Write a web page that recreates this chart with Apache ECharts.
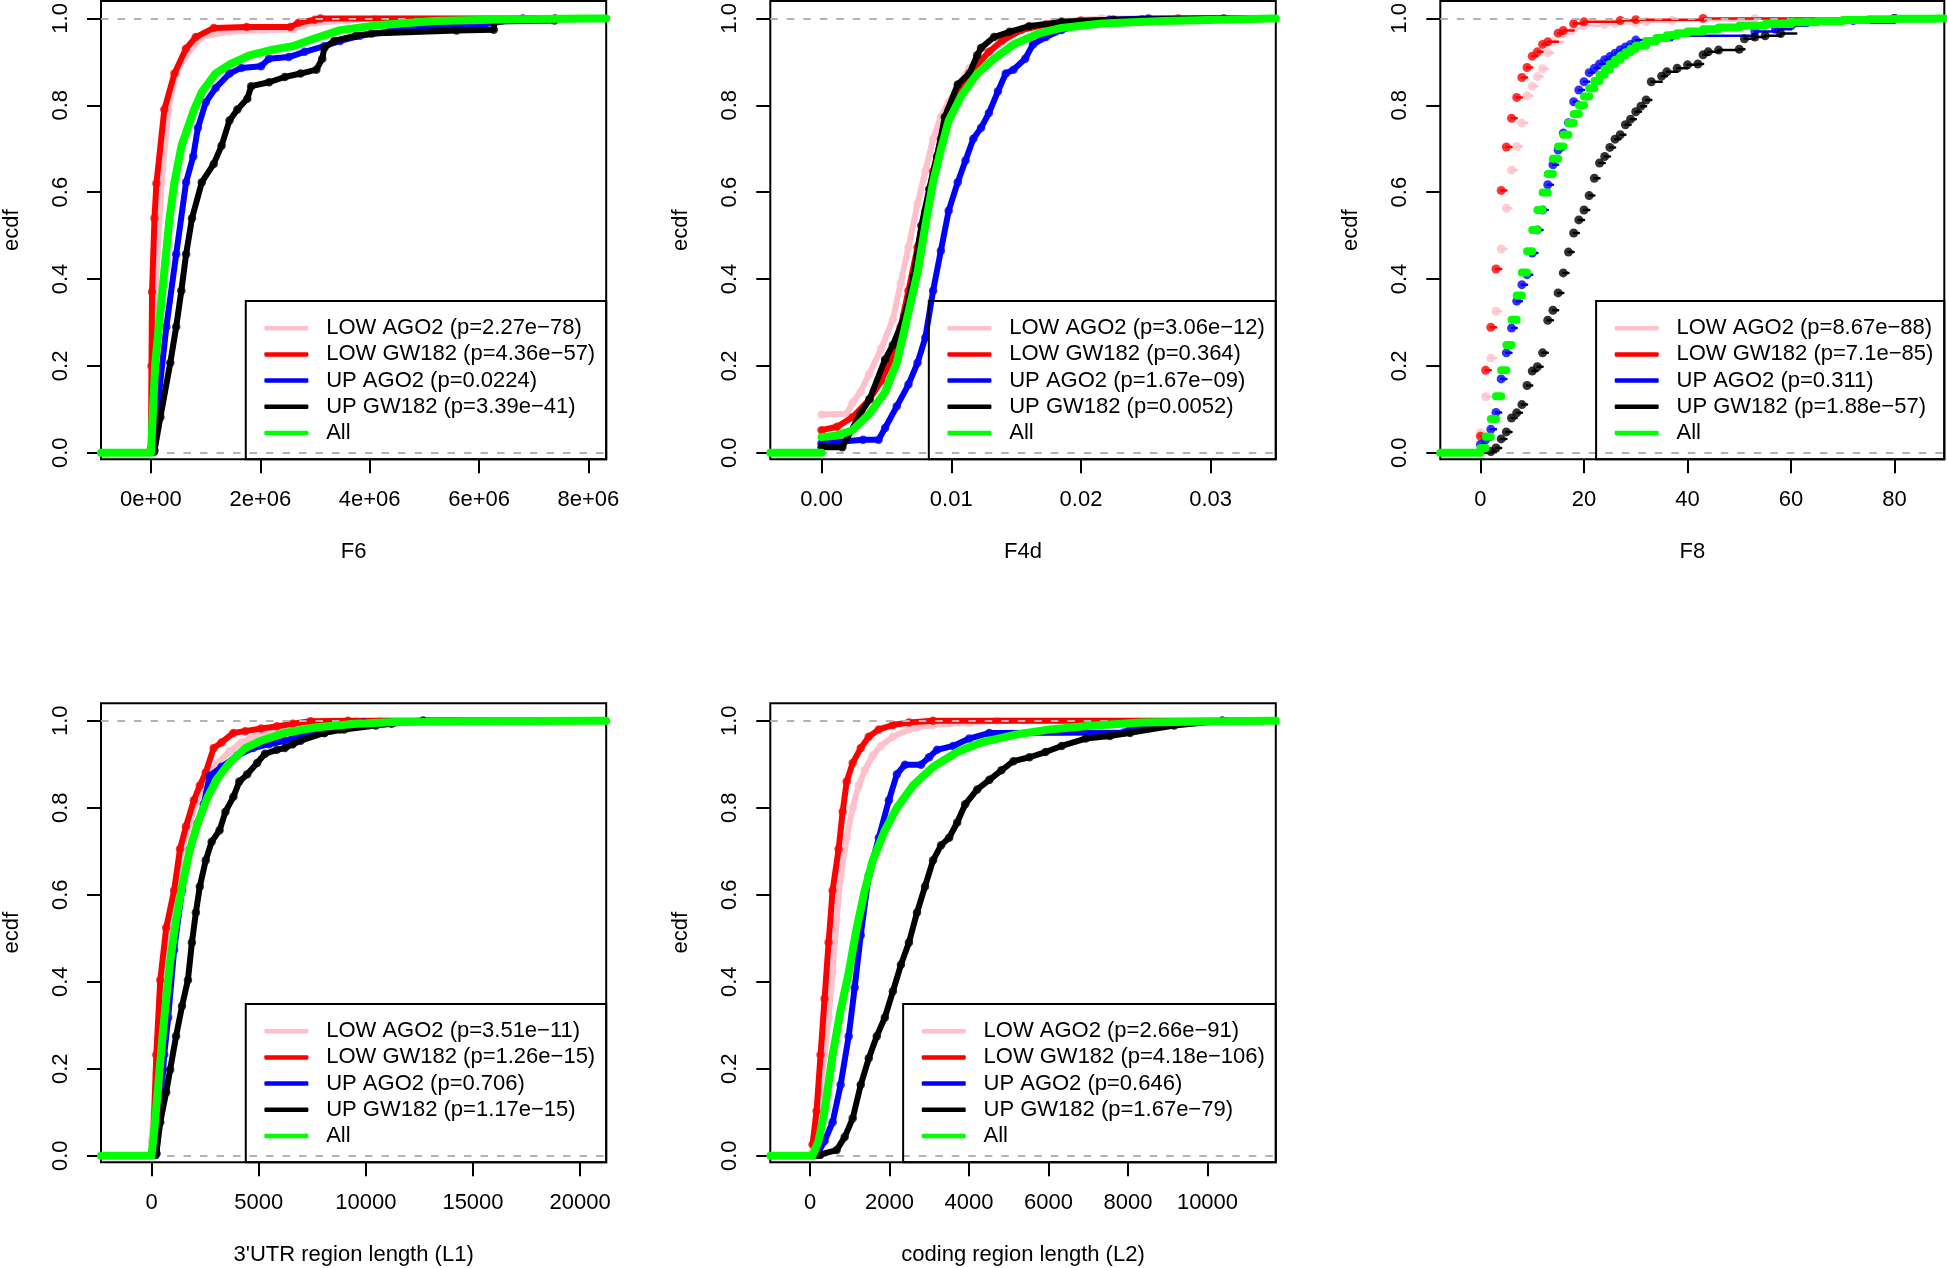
<!DOCTYPE html>
<html><head><meta charset="utf-8">
<script src="https://cdn.jsdelivr.net/npm/echarts@6/dist/echarts.min.js"></script>
<style>html,body{margin:0;padding:0;background:#fff}#c{width:1947px;height:1268px}</style>
</head><body><div id="c"></div>
<script>
// ---------- categories / labels ----------
const GROUPS = ['LOW AGO2', 'LOW GW182', 'UP AGO2', 'UP GW182', 'All'];
const COLORS = ['#FFC0CB', '#FF0000', '#0000FF', '#000000', '#00FF00'];
const P_F6  = ['2.27e\u221278', '4.36e\u221257', '0.0224', '3.39e\u221241'];
const P_F4D = ['3.06e\u221212', '0.364', '1.67e\u221209', '0.0052'];
const P_F8  = ['8.67e\u221288', '7.1e\u221285', '0.311', '1.88e\u221257'];
const P_L1  = ['3.51e\u221211', '1.26e\u221215', '0.706', '1.17e\u221215'];
const P_L2  = ['2.66e\u221291', '4.18e\u2212106', '0.646', '1.67e\u221279'];

const Y_TICKS = [0, 0.2, 0.4, 0.6, 0.8, 1.0];
const Y_TICK_LABELS = ['0.0', '0.2', '0.4', '0.6', '0.8', '1.0'];
const F6_TICKS = [0, 2e6, 4e6, 6e6, 8e6];
const F6_TICK_LABELS = ['0e+00', '2e+06', '4e+06', '6e+06', '8e+06'];
const F4D_TICKS = [0, 0.01, 0.02, 0.03];
const F4D_TICK_LABELS = ['0.00', '0.01', '0.02', '0.03'];
const F8_TICKS = [0, 20, 40, 60, 80];
const F8_TICK_LABELS = ['0', '20', '40', '60', '80'];
const L1_TICKS = [0, 5000, 10000, 15000, 20000];
const L1_TICK_LABELS = ['0', '5000', '10000', '15000', '20000'];
const L2_TICKS = [0, 2000, 4000, 6000, 8000, 10000];
const L2_TICK_LABELS = ['0', '2000', '4000', '6000', '8000', '10000'];

// ---------- ECDF values: [x, F(x)] ----------
const F6_LOW_AGO2 = [[0,0.01],[0.03e6,0.2],[0.08e6,0.35],[0.12e6,0.46],[0.195e6,0.62],[0.32e6,0.79],[0.46e6,0.873],[0.64e6,0.915],[0.93e6,0.957],[1.44e6,0.97],[2.6e6,0.975],[2.8e6,0.985],[3.0e6,0.99],[3.6e6,0.995],[4.1e6,1.0]];
const F6_LOW_GW182 = [[0,0.01],[0.01e6,0.2],[0.02e6,0.37],[0.065e6,0.54],[0.1e6,0.62],[0.245e6,0.79],[0.43e6,0.873],[0.64e6,0.93],[0.82e6,0.957],[1.15e6,0.978],[1.75e6,0.98],[2.55e6,0.98],[2.7e6,0.99],[3.0e6,0.997],[3.1e6,1.0]];
const F6_UP_AGO2 = [[0.03e6,0.005],[0.08e6,0.06],[0.137e6,0.123],[0.282e6,0.29],[0.462e6,0.457],[0.643e6,0.623],[0.773e6,0.682],[0.859e6,0.748],[1.004e6,0.807],[1.184e6,0.84],[1.437e6,0.873],[1.653e6,0.886],[2.014e6,0.89],[2.159e6,0.907],[2.52e6,0.911],[2.81e6,0.923],[3.17e6,0.936],[3.46e6,0.948],[3.82e6,0.96],[4.36e6,0.97],[4.9e6,0.978],[5.9e6,0.982],[6.27e6,0.99],[6.8e6,1.0]];
const F6_UP_GW182 = [[0.065e6,0.005],[0.173e6,0.082],[0.354e6,0.207],[0.462e6,0.29],[0.556e6,0.373],[0.643e6,0.457],[0.751e6,0.54],[0.931e6,0.623],[1.148e6,0.665],[1.292e6,0.707],[1.437e6,0.765],[1.581e6,0.79],[1.762e6,0.815],[1.834e6,0.844],[2.159e6,0.853],[2.448e6,0.865],[2.736e6,0.873],[3.025e6,0.882],[3.133e6,0.907],[3.17e6,0.932],[3.35e6,0.948],[3.747e6,0.96],[4.036e6,0.965],[5.588e6,0.972],[6.27e6,0.974],[6.28e6,0.993],[7.38e6,0.995],[7.39e6,1.0]];
const F6_ALL = [[0,0.0],[0.08e6,0.207],[0.21e6,0.373],[0.34e6,0.54],[0.43e6,0.623],[0.56e6,0.707],[0.79e6,0.79],[0.93e6,0.83],[1.18e6,0.873],[1.44e6,0.894],[1.8e6,0.915],[2.23e6,0.928],[2.59e6,0.936],[2.95e6,0.952],[3.46e6,0.973],[4.18e6,0.985],[5.19e6,0.994],[6.64e6,0.998],[8.0e6,1.0]];

const F4D_LOW_AGO2 = [[0,0.088],[0.00195,0.09],[0.0024,0.115],[0.003,0.14],[0.00365,0.18],[0.0046,0.24],[0.0055,0.307],[0.0061,0.39],[0.0067,0.473],[0.0074,0.573],[0.008,0.648],[0.0086,0.723],[0.0092,0.773],[0.0098,0.807],[0.0106,0.848],[0.0114,0.886],[0.0123,0.907],[0.0136,0.94],[0.0148,0.965],[0.0163,0.983],[0.0185,0.994],[0.0216,1.0]];
const F4D_LOW_GW182 = [[0,0.052],[0.0012,0.06],[0.0024,0.082],[0.0037,0.123],[0.0046,0.165],[0.0055,0.223],[0.0061,0.29],[0.0067,0.373],[0.0074,0.473],[0.008,0.557],[0.0086,0.648],[0.0092,0.723],[0.0098,0.79],[0.0108,0.84],[0.0117,0.882],[0.0129,0.923],[0.0139,0.948],[0.0154,0.973],[0.0173,0.986],[0.02,0.995],[0.0247,0.998],[0.0275,1.0]];
const F4D_UP_AGO2 = [[0,0.022],[0.0032,0.03],[0.0044,0.03],[0.0049,0.057],[0.0058,0.107],[0.0067,0.157],[0.0074,0.207],[0.008,0.265],[0.0086,0.373],[0.0092,0.465],[0.0098,0.557],[0.0105,0.623],[0.0111,0.673],[0.0117,0.723],[0.0123,0.748],[0.0129,0.782],[0.0136,0.832],[0.0142,0.873],[0.0148,0.882],[0.0157,0.907],[0.0163,0.94],[0.0173,0.957],[0.0185,0.973],[0.02,0.986],[0.0222,0.997],[0.0252,1.0]];
const F4D_UP_GW182 = [[0,0.013],[0.0016,0.013],[0.003,0.09],[0.0037,0.123],[0.0049,0.215],[0.0055,0.248],[0.0064,0.315],[0.0071,0.407],[0.0077,0.523],[0.0083,0.607],[0.0089,0.682],[0.0095,0.773],[0.0105,0.848],[0.0114,0.873],[0.012,0.915],[0.0123,0.932],[0.0133,0.957],[0.0145,0.969],[0.016,0.982],[0.0185,0.992],[0.0225,0.997],[0.031,1.0]];
const F4D_ALL = [[0,0.036],[0.0012,0.04],[0.0024,0.052],[0.0037,0.09],[0.0049,0.14],[0.0058,0.207],[0.0067,0.323],[0.0074,0.415],[0.008,0.523],[0.0086,0.623],[0.0092,0.698],[0.0098,0.765],[0.0108,0.823],[0.012,0.873],[0.0133,0.907],[0.0148,0.94],[0.0167,0.965],[0.0185,0.978],[0.0216,0.988],[0.0263,0.994],[0.0324,0.998],[0.0348,1.0]];

const F8_LOW_AGO2 = [[0,0.046],[1,0.129],[2,0.218],[3,0.326],[4,0.469],[5,0.563],[6,0.651],[7,0.705],[8,0.759],[9,0.822],[10,0.844],[11,0.866],[12,0.884],[13,0.921],[14,0.946],[16,0.965],[18,0.977],[20,0.983],[24,0.986],[26,0.988],[30,0.99],[32,0.992],[37,0.995],[53,1.0]];
const F8_LOW_GW182 = [[0,0.038],[1,0.19],[2,0.289],[3,0.423],[4,0.604],[5,0.704],[6,0.77],[7,0.818],[8,0.864],[9,0.887],[10,0.913],[11,0.923],[12,0.94],[13,0.946],[15,0.966],[16,0.972],[18,0.988],[20,0.992],[27,0.995],[30,0.997],[43,1.0]];
const F8_UP_AGO2 = [[0,0.019],[1,0.03],[2,0.054],[3,0.093],[4,0.17],[5,0.23],[6,0.287],[7,0.349],[8,0.387],[9,0.41],[10,0.46],[11,0.513],[12,0.559],[13,0.617],[14,0.663],[15,0.697],[16,0.736],[17,0.76],[18,0.808],[19,0.835],[20,0.854],[21,0.875],[22,0.885],[23,0.895],[24,0.905],[25,0.912],[26,0.92],[27,0.928],[28,0.934],[29,0.94],[30,0.95],[37,0.96],[53,0.97],[57,0.975],[60,0.983],[63,0.99],[72,0.995],[80,1.0]];
const F8_UP_GW182 = [[2,0.003],[3,0.011],[4,0.032],[5,0.048],[6,0.08],[7,0.092],[8,0.111],[9,0.155],[10,0.188],[11,0.198],[12,0.23],[13,0.305],[14,0.328],[15,0.368],[16,0.414],[17,0.462],[18,0.506],[19,0.536],[20,0.559],[21,0.592],[22,0.632],[23,0.667],[24,0.682],[25,0.703],[26,0.722],[27,0.732],[28,0.755],[29,0.768],[30,0.785],[31,0.798],[32,0.812],[33,0.854],[35,0.867],[36,0.877],[38,0.885],[40,0.893],[42,0.895],[43,0.916],[44,0.923],[46,0.927],[50,0.929],[51,0.953],[53,0.957],[55,0.96],[58,0.965],[61,0.99],[80,1.0]];
const F8_ALL = [[0,0.011],[1,0.037],[2,0.078],[3,0.13],[4,0.19],[5,0.248],[6,0.306],[7,0.362],[8,0.415],[9,0.464],[10,0.513],[11,0.559],[12,0.599],[13,0.642],[14,0.677],[15,0.705],[16,0.732],[17,0.759],[18,0.78],[19,0.8],[20,0.82],[21,0.839],[22,0.856],[23,0.87],[24,0.883],[25,0.895],[26,0.905],[27,0.914],[28,0.922],[29,0.93],[30,0.937],[32,0.948],[34,0.955],[36,0.961],[38,0.966],[40,0.97],[43,0.975],[46,0.979],[50,0.983],[55,0.987],[60,0.991],[65,0.994],[70,0.996],[75,0.998],[80,0.999],[88,1.0]];

const L1_LOW_AGO2 = [[0,0.034],[221,0.19],[406,0.318],[683,0.473],[1052,0.59],[1421,0.705],[1790,0.765],[2159,0.825],[2620,0.868],[3081,0.903],[3635,0.929],[4188,0.95],[4926,0.967],[5849,0.98],[6956,0.989],[8063,0.996],[9539,0.999],[10646,1.0]];
const L1_LOW_GW182 = [[60,0.01],[221,0.232],[406,0.404],[683,0.524],[1052,0.61],[1328,0.705],[1605,0.757],[1974,0.817],[2251,0.851],[2528,0.881],[2897,0.937],[3266,0.95],[3819,0.972],[4373,0.976],[5111,0.982],[5849,0.987],[6587,0.993],[7417,0.999],[9170,1.0]];
const L1_UP_AGO2 = [[221,0.005],[406,0.103],[590,0.232],[775,0.318],[1052,0.473],[1421,0.61],[1790,0.705],[2159,0.765],[2435,0.808],[2712,0.873],[3266,0.894],[4004,0.92],[4742,0.937],[5480,0.946],[6218,0.954],[7140,0.967],[8063,0.972],[8801,0.98],[9908,0.996],[12675,1.0]];
const L1_UP_GW182 = [[221,0.005],[406,0.077],[683,0.146],[867,0.198],[1144,0.275],[1421,0.344],[1697,0.404],[1882,0.49],[2067,0.559],[2251,0.619],[2528,0.679],[2805,0.722],[3174,0.748],[3450,0.791],[3819,0.825],[4096,0.86],[4465,0.877],[4926,0.903],[5295,0.924],[5849,0.933],[6218,0.937],[6587,0.946],[6956,0.954],[8063,0.972],[8985,0.98],[10461,0.989],[11199,0.993],[12675,1.0]];
const L1_ALL = [[0,0.002],[129,0.06],[314,0.163],[498,0.267],[683,0.361],[867,0.447],[1144,0.542],[1421,0.619],[1790,0.705],[2159,0.765],[2620,0.825],[3081,0.868],[3635,0.903],[4373,0.937],[5111,0.954],[6218,0.972],[7694,0.985],[9539,0.993],[11384,0.997],[15074,0.999],[20609,1.0]];

const L2_LOW_AGO2 = [[61,0.009],[212,0.103],[364,0.232],[465,0.318],[566,0.421],[667,0.542],[768,0.645],[920,0.731],[1072,0.8],[1223,0.851],[1375,0.886],[1577,0.92],[1780,0.942],[2083,0.963],[2487,0.98],[3094,0.99],[4004,0.996],[4712,1.0]];
const L2_LOW_GW182 = [[61,0.026],[162,0.103],[263,0.232],[364,0.361],[465,0.49],[566,0.61],[718,0.705],[819,0.791],[920,0.86],[1072,0.903],[1274,0.937],[1476,0.963],[1729,0.98],[2083,0.99],[2487,0.996],[3094,1.0]];
const L2_UP_AGO2 = [[212,0.009],[364,0.034],[566,0.077],[768,0.163],[971,0.275],[1122,0.387],[1274,0.507],[1476,0.645],[1729,0.731],[1982,0.817],[2184,0.877],[2386,0.899],[2791,0.899],[2993,0.916],[3195,0.933],[3600,0.942],[4004,0.959],[4510,0.972],[7900,0.973],[8049,0.98],[8959,0.99],[10374,1.0]];
const L2_UP_GW182 = [[263,0.003],[667,0.013],[870,0.043],[1072,0.086],[1274,0.163],[1476,0.224],[1678,0.275],[1881,0.318],[2083,0.378],[2285,0.439],[2487,0.49],[2690,0.559],[2892,0.619],[3094,0.679],[3296,0.714],[3499,0.731],[3701,0.766],[3903,0.808],[4206,0.842],[4510,0.864],[4813,0.886],[5116,0.907],[5521,0.916],[5925,0.928],[6330,0.942],[6936,0.959],[7543,0.965],[8049,0.972],[9161,0.989],[10374,1.0]];
const L2_ALL = [[61,0.0],[212,0.034],[364,0.103],[566,0.232],[768,0.335],[971,0.421],[1173,0.524],[1375,0.61],[1577,0.679],[1881,0.748],[2184,0.8],[2589,0.851],[3094,0.894],[3701,0.928],[4307,0.95],[5116,0.967],[6026,0.98],[7138,0.989],[8351,0.996],[10374,0.999],[11600,1.0]];

// ---------- layout ----------
const FONT = '"Liberation Sans", Arial, Helvetica, sans-serif';
const PANELS = [
  {xname:'F6', p:P_F6, data:[F6_LOW_AGO2,F6_LOW_GW182,F6_UP_AGO2,F6_UP_GW182,F6_ALL], ticks:F6_TICKS, labels:F6_TICK_LABELS, min:-0.913e6, max:8.325e6, step:false,
   grid:{left:100.7, top:1, width:505.5, height:458.3}, leg:{right:1340.8, bottom:808.7}},
  {xname:'F4d', p:P_F4D, data:[F4D_LOW_AGO2,F4D_LOW_GW182,F4D_UP_AGO2,F4D_UP_GW182,F4D_ALL], ticks:F4D_TICKS, labels:F4D_TICK_LABELS, min:-0.00395, max:0.03502, step:false,
   grid:{left:770.3, top:1, width:505.5, height:458.3}, leg:{right:671.2, bottom:808.7}},
  {xname:'F8', p:P_F8, data:[F8_LOW_AGO2,F8_LOW_GW182,F8_UP_AGO2,F8_UP_GW182,F8_ALL], ticks:F8_TICKS, labels:F8_TICK_LABELS, min:-7.76, max:89.6, step:true,
   grid:{left:1440.3, top:1, width:504, height:458.3}, leg:{right:2.7, bottom:808.7}},
  {xname:"3'UTR region length (L1)", p:P_L1, data:[L1_LOW_AGO2,L1_LOW_GW182,L1_UP_AGO2,L1_UP_GW182,L1_ALL], ticks:L1_TICKS, labels:L1_TICK_LABELS, min:-2360, max:21217, step:false,
   grid:{left:100.7, top:703.3, width:505.5, height:459}, leg:{right:1340.8, bottom:105.7}},
  {xname:'coding region length (L2)', p:P_L2, data:[L2_LOW_AGO2,L2_LOW_GW182,L2_UP_AGO2,L2_UP_GW182,L2_ALL], ticks:L2_TICKS, labels:L2_TICK_LABELS, min:-1002, max:11719, step:false,
   grid:{left:770.3, top:703.3, width:505.5, height:459}, leg:{right:671.2, bottom:105.7}}
];

function labelOf(ticks, labels, v) {
  const j = ticks.findIndex(t => Math.abs(t - v) <= Math.abs(t) * 1e-9 + 1e-12);
  return j >= 0 ? labels[j] : '';
}
const GAP = ['-', '-'];
function ecdfPath(pts, xmin, xmax, step) {
  const out = [[xmin, 0], [pts[0][0], 0], GAP];
  if (step) {
    for (let i = 0; i < pts.length; i++) {
      const nx = i < pts.length - 1 ? pts[i + 1][0] : xmax;
      out.push([pts[i][0], pts[i][1]], [nx, pts[i][1]], GAP);
    }
  } else {
    pts.forEach(p => out.push(p));
    out.push([xmax, pts[pts.length - 1][1]]);
  }
  return out;
}

const option = {backgroundColor:'#fff', animation:false, grid:[], xAxis:[], yAxis:[], series:[], legend:[]};
const txt = {fontSize:22, color:'#000', fontFamily:FONT};

PANELS.forEach((P, i) => {
  option.grid.push(Object.assign({show:true, borderColor:'#000', borderWidth:2, backgroundColor:'transparent'}, P.grid));
  option.xAxis.push({type:'value', gridIndex:i, min:P.min, max:P.max, name:P.xname, nameLocation:'middle', nameGap:82,
    nameTextStyle:txt, axisLine:{show:false, onZero:false}, splitLine:{show:false},
    axisTick:{show:true, inside:false, length:14, lineStyle:{color:'#000', width:2}, customValues:P.ticks},
    axisLabel:Object.assign({customValues:P.ticks, margin:30, hideOverlap:false, formatter:v => labelOf(P.ticks, P.labels, v)}, txt)});
  option.yAxis.push({type:'value', gridIndex:i, min:-0.015, max:1.04, name:'ecdf', nameLocation:'middle', nameGap:78,
    nameTextStyle:txt, axisLine:{show:false, onZero:false}, splitLine:{show:false},
    axisTick:{show:true, inside:false, length:14, lineStyle:{color:'#000', width:2}, customValues:Y_TICKS},
    axisLabel:Object.assign({customValues:Y_TICKS, rotate:90, margin:29, hideOverlap:false, formatter:v => labelOf(Y_TICKS, Y_TICK_LABELS, v)}, txt)});
  const names = [];
  GROUPS.forEach((g, k) => {
    const name = k < 4 ? g + ' (p=' + P.p[k] + ')' : g;
    names.push(name);
    const isAll = k === 4;
    const line = {type:'line', name, xAxisIndex:i, yAxisIndex:i, data:ecdfPath(P.data[k], P.min, P.max, P.step),
      showSymbol:false, symbol:'none', connectNulls:false, silent:true, z:2 + k, animation:false,
      itemStyle:{color:COLORS[k]},
      lineStyle:{color:COLORS[k], width:isAll ? 8 : (P.step ? 2.5 : 6), cap:'round', join:'round'}};
    if (isAll) {
      line.markLine = {silent:true, symbol:['none','none'], label:{show:false}, animation:false,
        lineStyle:{color:'#B3B3B3', width:2, type:[7.5, 9]}, data:[{yAxis:0}, {yAxis:1}]};
    }
    option.series.push(line);
    if (!isAll) {
      option.series.push({type:'scatter', name, xAxisIndex:i, yAxisIndex:i, data:P.data[k], symbol:'circle',
        symbolSize:P.step ? 9 : 8.5, silent:true, z:2 + k, animation:false, itemStyle:{color:COLORS[k]}});
    }
  });
  option.legend.push({orient:'vertical', right:P.leg.right, bottom:P.leg.bottom, padding:[14.1, 11, 13.2, 18.6],
    itemGap:0, itemWidth:44, itemHeight:4.5, borderColor:'#000', borderWidth:2, borderRadius:0,
    backgroundColor:'transparent', selectedMode:false, z:10,
    textStyle:{fontSize:22, fontFamily:FONT, color:'#000', lineHeight:26.2, padding:[0, 0, 0, 12.8]},
    itemStyle:{borderWidth:0}, data:names.map(n => ({name:n, icon:'roundRect'}))});
});

const chart = echarts.init(document.getElementById('c'), null, {renderer:'canvas'});
chart.setOption(option);
</script></body></html>
